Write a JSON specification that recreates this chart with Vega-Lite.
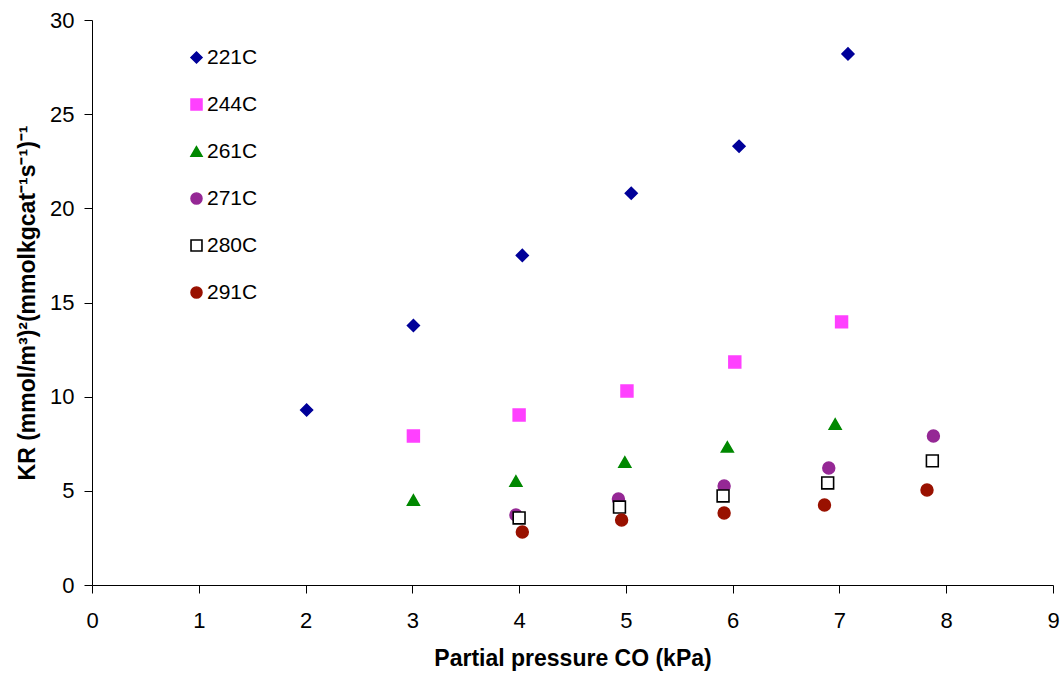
{
  "$schema": "https://vega.github.io/schema/vega-lite/v6.json",
  "width": 961,
  "height": 565,
  "autosize": "none",
  "padding": {"left": 92, "top": 20, "right": 10, "bottom": 92},
  "background": "white",
  "config": {
    "view": {"stroke": null},
    "font": "Liberation Sans",
    "axis": {"grid": false, "domainColor": "black", "tickColor": "black", "labelColor": "black", "titleColor": "black", "labelFont": "Liberation Sans", "titleFont": "Liberation Sans"}
  },
  "data": {
    "values": [
      {"series": "221C", "x": 2.01, "y": 9.29},
      {"series": "221C", "x": 3.01, "y": 13.78},
      {"series": "221C", "x": 4.03, "y": 17.5},
      {"series": "221C", "x": 5.05, "y": 20.8},
      {"series": "221C", "x": 6.06, "y": 23.3},
      {"series": "221C", "x": 7.08, "y": 28.2},
      {"series": "244C", "x": 3.01, "y": 7.91},
      {"series": "244C", "x": 4.0, "y": 9.03},
      {"series": "244C", "x": 5.01, "y": 10.3},
      {"series": "244C", "x": 6.02, "y": 11.84},
      {"series": "244C", "x": 7.02, "y": 13.97},
      {"series": "261C", "x": 3.01, "y": 4.51},
      {"series": "261C", "x": 3.97, "y": 5.52},
      {"series": "261C", "x": 4.99, "y": 6.53},
      {"series": "261C", "x": 5.95, "y": 7.33},
      {"series": "261C", "x": 6.96, "y": 8.55},
      {"series": "271C", "x": 3.97, "y": 3.72},
      {"series": "271C", "x": 4.93, "y": 4.57},
      {"series": "271C", "x": 5.92, "y": 5.26},
      {"series": "271C", "x": 6.9, "y": 6.21},
      {"series": "271C", "x": 7.88, "y": 7.91},
      {"series": "280C", "x": 4.0, "y": 3.56},
      {"series": "280C", "x": 4.94, "y": 4.14},
      {"series": "280C", "x": 5.91, "y": 4.73},
      {"series": "280C", "x": 6.89, "y": 5.42},
      {"series": "280C", "x": 7.87, "y": 6.59},
      {"series": "291C", "x": 4.03, "y": 2.81},
      {"series": "291C", "x": 4.96, "y": 3.45},
      {"series": "291C", "x": 5.92, "y": 3.82},
      {"series": "291C", "x": 6.86, "y": 4.25},
      {"series": "291C", "x": 7.82, "y": 5.04}
    ]
  },
  "mark": {"type": "point", "filled": false, "size": 140, "strokeWidth": 1.6, "opacity": 1},
  "encoding": {
    "x": {
      "field": "x", "type": "quantitative",
      "scale": {"domain": [0, 9], "nice": false, "zero": true},
      "axis": {"values": [0,1,2,3,4,5,6,7,8,9], "title": "Partial pressure CO (kPa)", "titleFontSize": 23, "titleFontWeight": "bold", "titlePadding": 16, "labelFontSize": 22, "labelPadding": 17, "tickSize": 8, "labelFlush": false}
    },
    "y": {
      "field": "y", "type": "quantitative",
      "scale": {"domain": [0, 30], "nice": false},
      "axis": {"values": [0,5,10,15,20,25,30], "title": "KR (mmol/m³)²(mmolkgcat⁻¹s⁻¹)⁻¹", "titleFontSize": 23, "titleFontWeight": "bold", "titlePadding": 10, "labelFontSize": 22, "labelPadding": 10, "tickSize": 8}
    },
    "shape": {
      "field": "series", "type": "nominal",
      "scale": {"domain": ["221C","244C","261C","271C","280C","291C"], "range": ["diamond","square","triangle-up","circle","square","circle"]},
      "legend": {"title": null, "orient": "none", "legendX": 94, "legendY": 27, "labelFontSize": 21, "labelFont": "Liberation Sans", "labelColor": "black", "rowPadding": 25, "symbolSize": 120, "labelOffset": 0, "symbolStrokeWidth": 1.6}
    },
    "fill": {
      "field": "series", "type": "nominal",
      "scale": {"domain": ["221C","244C","261C","271C","280C","291C"], "range": ["#000099","#FF40FF","#008800","#952895","#ffffff","#991100"]},
      "legend": {"title": null, "orient": "none", "legendX": 94, "legendY": 27, "labelFontSize": 21, "labelFont": "Liberation Sans", "labelColor": "black", "rowPadding": 25, "symbolSize": 120, "labelOffset": 0, "symbolStrokeWidth": 1.6}
    },
    "stroke": {
      "field": "series", "type": "nominal",
      "scale": {"domain": ["221C","244C","261C","271C","280C","291C"], "range": ["#000099","#FF40FF","#008800","#952895","#000000","#991100"]},
      "legend": {"title": null, "orient": "none", "legendX": 94, "legendY": 27, "labelFontSize": 21, "labelFont": "Liberation Sans", "labelColor": "black", "rowPadding": 25, "symbolSize": 120, "labelOffset": 0, "symbolStrokeWidth": 1.6}
    }
  }
}
